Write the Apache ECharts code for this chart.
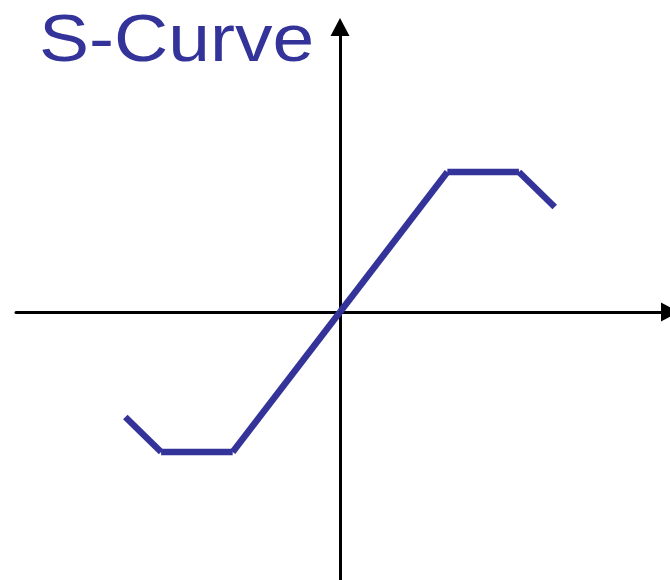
<!DOCTYPE html>
<html>
<head>
<meta charset="utf-8">
<script src="https://cdn.jsdelivr.net/npm/echarts@6/dist/echarts.min.js"></script>
<style>html,body{margin:0;padding:0;background:#fff}#c{width:670px;height:580px}</style>
</head>
<body>
<div id="c"></div>
<script>
var titleText = 'S-Curve';
var xValues = [-6, -5, -3, 0, 3, 5, 6];
var yValues = [-3, -4, -4, 0, 4, 4, 3];

var chart = echarts.init(document.getElementById('c'), null, {renderer: 'canvas'});
var series = [];
// one straight piece between each pair of consecutive points
for (var i = 0; i < xValues.length - 1; i++) {
  series.push({
    type: 'line',
    data: [[xValues[i], yValues[i]], [xValues[i + 1], yValues[i + 1]]],
    symbol: 'none',
    silent: true,
    animation: false,
    lineStyle: {color: '#333399', width: 6.5, cap: 'butt', join: 'miter'}
  });
}

var axisLineStyle = {color: '#000', width: 3};
chart.setOption({
  animation: false,
  backgroundColor: '#fff',
  graphic: [{
    type: 'text',
    x: 39, y: 9,
    scaleX: 1.12,
    style: {text: titleText, fill: '#333399', font: '67px "Liberation Sans", Arial, sans-serif', verticalAlign: 'top'}
  }],
  grid: {left: 16, top: 27, width: 658, height: 553, containLabel: false},
  xAxis: {
    type: 'value', min: -326 / 36, max: 332 / 36,
    axisLine: {onZero: true, lineStyle: axisLineStyle, symbol: ['none', 'triangle'], symbolSize: [19, 18]},
    axisTick: {show: false}, axisLabel: {show: false}, splitLine: {show: false}
  },
  yAxis: {
    type: 'value', min: -268 / 35, max: 285 / 35,
    axisLine: {onZero: true, lineStyle: axisLineStyle, symbol: ['none', 'triangle'], symbolSize: [19, 18]},
    axisTick: {show: false}, axisLabel: {show: false}, splitLine: {show: false}
  },
  series: series
});
</script>
</body>
</html>
